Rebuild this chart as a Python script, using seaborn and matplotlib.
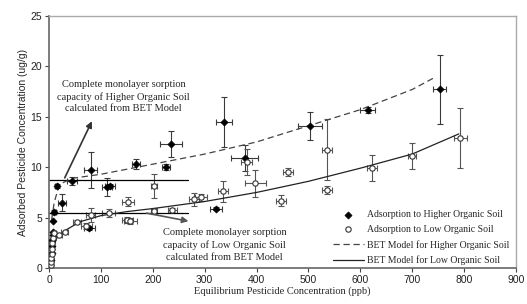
import numpy as np
import pandas as pd
import matplotlib
matplotlib.use("Agg")
import matplotlib.pyplot as plt
import seaborn as sns

# ---- data ----
hi_x = [4, 5, 6, 6, 7, 8, 7, 10, 15, 25, 44, 78, 80, 112, 117, 167, 225, 235, 322, 337, 377, 503, 614, 753]
hi_y = [0.8, 1.5, 2.2, 2.8, 3.3, 3.6, 4.7, 5.6, 8.1, 6.5, 8.6, 4.0, 9.7, 8.05, 8.1, 10.3, 10.0, 12.3, 5.9, 14.5, 10.9, 14.1, 15.7, 17.7]
hi_xerr = [0, 0, 0, 0, 0, 0, 0, 3, 3, 8, 10, 10, 12, 10, 10, 8, 8, 21, 12, 15, 26, 23, 15, 12]
hi_yerr = [0, 0, 0, 0, 0, 0, 0, 0.2, 0.2, 0.8, 0.4, 0.2, 1.8, 0.9, 0.2, 0.5, 0.3, 1.3, 0.15, 2.5, 1.3, 1.4, 0.3, 3.4]

lo_x = [3, 4, 4, 5, 5, 6, 8, 10, 20, 30, 54, 72, 80, 115, 152, 151, 157, 203, 203, 238, 280, 293, 335, 381, 398, 447, 461, 536, 536, 623, 700, 793]
lo_y = [0.3, 0.6, 1.0, 1.4, 1.9, 2.5, 3.0, 3.5, 3.3, 3.6, 4.6, 4.2, 5.3, 5.5, 6.6, 4.8, 4.7, 8.1, 5.7, 5.8, 6.8, 7.0, 7.6, 10.5, 8.4, 6.7, 9.5, 11.75, 7.7, 9.9, 11.1, 12.9]
lo_xerr = [0, 0, 0, 0, 0, 0, 0, 4, 6, 6, 8, 10, 8, 12, 12, 10, 12, 6, 6, 8, 10, 12, 10, 10, 20, 10, 10, 10, 10, 10, 8, 12]
lo_yerr = [0, 0, 0, 0, 0, 0, 0, 0.2, 0.2, 0.1, 0.2, 0.3, 0.7, 0.4, 0.4, 0.3, 0.3, 1.2, 0.3, 0.2, 0.6, 0.3, 1.0, 1.3, 1.35, 0.5, 0.4, 3.0, 0.4, 1.3, 1.3, 3.0]

bet_hi_x = [5, 10, 20, 45, 100, 200, 300, 400, 500, 600, 700, 740]
bet_hi_y = [4.8, 6.5, 8.3, 8.9, 9.3, 10.3, 11.3, 12.5, 14.1, 15.7, 17.7, 18.8]
bet_lo_x = [5, 15, 30, 60, 100, 150, 200, 300, 400, 500, 600, 700, 790]
bet_lo_y = [1.5, 3.0, 3.7, 4.6, 5.2, 5.6, 5.9, 6.6, 7.5, 8.6, 9.9, 11.3, 13.3]

mono_hi = 8.7
mono_lo = 5.5
mono_xmax = 267

x_ticks = [0, 100, 200, 300, 400, 500, 600, 700, 800, 900]
y_ticks = [0, 5, 10, 15, 20, 25]

# ---- figure ----
sns.set_style("white")
plt.rcParams['font.family'] = ['Liberation Serif', 'DejaVu Serif']

fig, ax = plt.subplots(figsize=(5.27, 3.04), dpi=100)
fig.subplots_adjust(left=0.093, right=0.979, bottom=0.118, top=0.948)

ax.errorbar(hi_x, hi_y, xerr=hi_xerr, yerr=hi_yerr, fmt='none', ecolor="#3a3a3a",
            elinewidth=0.8, capsize=2.3, capthick=0.8, zorder=2)
ax.errorbar(lo_x, lo_y, xerr=lo_xerr, yerr=lo_yerr, fmt='none', ecolor="#555555",
            elinewidth=0.8, capsize=2.3, capthick=0.8, zorder=2)

df_hi = pd.DataFrame({"x": hi_x, "y": hi_y})
df_lo = pd.DataFrame({"x": lo_x, "y": lo_y})
sns.scatterplot(data=df_hi, x="x", y="y", ax=ax, marker="D", s=13, color="black",
                edgecolor="black", linewidth=0.5, zorder=3,
                label="Adsorption to Higher Organic Soil")
sns.scatterplot(data=df_lo, x="x", y="y", ax=ax, marker="o", s=15, facecolor="white",
                edgecolor="#333333", linewidth=0.8, zorder=3,
                label="Adsorption to Low Organic Soil")

sns.lineplot(x=bet_hi_x, y=bet_hi_y, ax=ax, color="#444444", linewidth=0.9,
             linestyle=(0, (5, 3)), label="BET Model for Higher Organic Soil", zorder=2.5)
sns.lineplot(x=bet_lo_x, y=bet_lo_y, ax=ax, color="#222222", linewidth=0.9,
             label="BET Model for Low Organic Soil", zorder=2.5)

ax.plot([0, mono_xmax], [mono_hi, mono_hi], color="black", linewidth=0.9, zorder=2)
ax.plot([0, mono_xmax], [mono_lo, mono_lo], color="black", linewidth=0.9, zorder=2)

ax.annotate("", xy=(85, 14.8), xytext=(28, 8.7),
            arrowprops=dict(arrowstyle="-|>", color="#333333", lw=1.2, mutation_scale=9))
ax.annotate("", xy=(274, 4.6), xytext=(183, 5.5),
            arrowprops=dict(arrowstyle="-|>", color="#555555", lw=1.2, mutation_scale=9))

ax.text(144, 17.0, "Complete monolayer sorption\ncapacity of Higher Organic Soil\ncalculated from BET Model",
        ha="center", va="center", fontsize=7.5, linespacing=1.4)
ax.text(338, 2.3, "Complete monolayer sorption\ncapacity of Low Organic Soil\ncalculated from BET Model",
        ha="center", va="center", fontsize=7.5, linespacing=1.4)

ax.set_xlim(0, 900)
ax.set_ylim(0, 25)
ax.set_xticks(x_ticks)
ax.set_yticks(y_ticks)
for lab in ax.get_xticklabels() + ax.get_yticklabels():
    lab.set_fontfamily(['Liberation Sans', 'DejaVu Sans'])
    lab.set_fontsize(7.5)
    lab.set_color("#222222")
ax.tick_params(axis='both', direction='out', length=3, width=0.8, color="#444444", pad=2,
               bottom=True, left=True)

ax.set_xlabel("Equilibrium Pesticide Concentration (ppb)", fontsize=7.5, labelpad=1)
ax.set_ylabel("Adsorbed Pesticide Concentration (ug/g)", fontsize=7.5, labelpad=2,
              fontfamily=['Liberation Sans', 'DejaVu Sans'])

for side in ["left", "bottom"]:
    ax.spines[side].set_color("#666666")
    ax.spines[side].set_linewidth(1.2)
for side in ["top", "right"]:
    ax.spines[side].set_color("#aaaaaa")
    ax.spines[side].set_linewidth(1.0)

leg = ax.legend(loc="lower right", bbox_to_anchor=(1.0, -0.015), frameon=False, fontsize=7,
                handlelength=3.2, handletextpad=0.3, labelspacing=0.6, borderaxespad=0.3)

fig.savefig("out.png", dpi=100)
